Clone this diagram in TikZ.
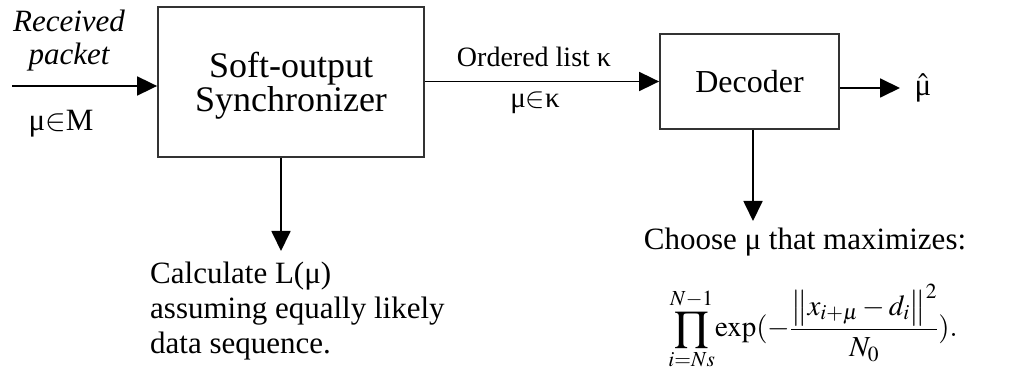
\documentclass[tikz,border=0pt]{standalone}
\usepackage{mathptmx}
\usepackage[no-math]{fontspec}
\setmainfont{Liberation Serif}
\usetikzlibrary{arrows.meta}
\tikzset{
  block/.style={draw=black!80, line width=1.8pt, inner sep=0pt, align=center, font=\fontsize{32}{36}\selectfont},
  flow/.style={line width=1.8pt, -{Triangle[length=20pt,width=19pt]}},
  lbl/.style={inner sep=0pt, font=\fontsize{31}{35}\selectfont},
}
\begin{document}
\begin{tikzpicture}[x=1pt,y=-1pt]
\useasboundingbox (0,0) rectangle (1014,379);

% processing blocks
\node[block, minimum width=266pt, minimum height=150pt] (sync) at (291,82) {};
\node[lbl, font=\fontsize{36}{32}\selectfont, align=center] (synctxt) at (291,86) {Soft-output\\Synchronizer};
\node[block, minimum width=179pt, minimum height=95pt] (dec) at (749.5,81.5) {Decoder};

% input side
\coordinate (in) at (12,86);
\node[lbl, font=\fontsize{31}{33}\selectfont\itshape, align=center] (rx) at (69,41) {Received\\packet};
\node[lbl] (mset) at (61,124) {μ\ensuremath{\in}M};
\draw[flow] (in) -- (sync.west |- in);

% synchronizer to decoder
\draw[flow] (sync.east |- dec.west) -- (dec.west);
\node[lbl, font=\fontsize{28}{34}\selectfont] (olist) at (534,57) {Ordered list κ};
\node[lbl, font=\fontsize{29}{34}\selectfont] (mlist) at (535,103) {μ\ensuremath{\in}κ};

% decoder output
\coordinate (out) at (900,88);
\draw[flow] (dec.east |- out) -- (out);
\node[lbl] (muhat) at (923,88) {$\hat{\hbox{μ}}$};

% synchronizer output
\coordinate (c1) at (281,251);
\draw[flow] (sync.south -| c1) -- (c1);
\node[lbl, anchor=north west, align=left] (calc) at (150,262)
  {Calculate L(μ)\\assuming equally likely\\data sequence.};

% decoder decision rule
\coordinate (c2) at (753,221);
\draw[flow] (dec.south -| c2) -- (c2);
\node[lbl] (choose) at (805,242) {Choose μ that maximizes:};
\node[lbl, font=\fontsize{29}{36}\selectfont] (rule) at (813,327)
  {$\displaystyle\prod_{i=Ns}^{N-1}\!\mathrm{exp}(-\frac{\left\| x_{i+\mu}-d_i\right\|^2}{N_0}).$};
\end{tikzpicture}
\end{document}
